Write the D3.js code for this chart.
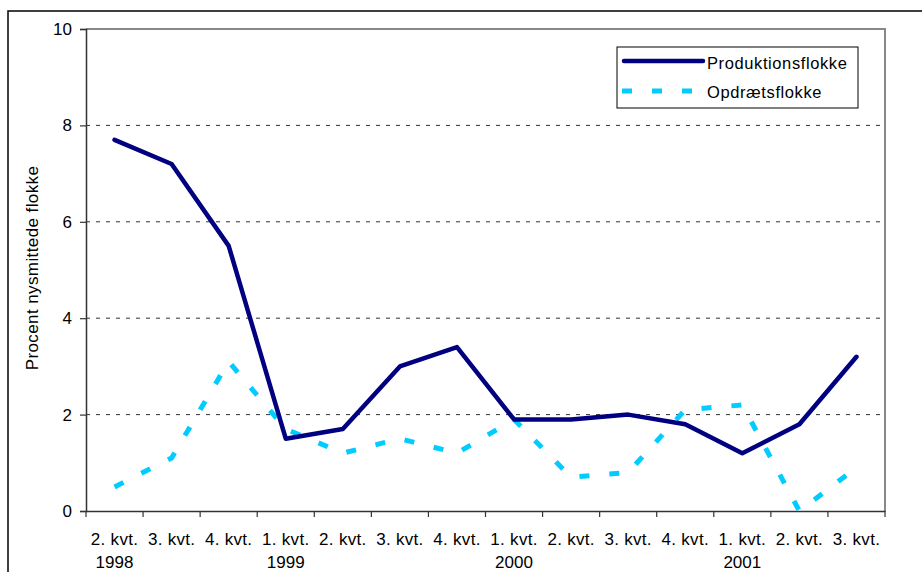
<!DOCTYPE html>
<html><head><meta charset="utf-8">
<script src="https://cdn.jsdelivr.net/npm/d3@7"></script>
<style>body{margin:0;background:#fff}svg{display:block;font-family:Arial,"Liberation Sans",sans-serif}</style>
</head><body><svg id="c" width="922" height="572"></svg>
<script>
const quarters = ["2. kvt.","3. kvt.","4. kvt.","1. kvt.","2. kvt.","3. kvt.","4. kvt.","1. kvt.","2. kvt.","3. kvt.","4. kvt.","1. kvt.","2. kvt.","3. kvt."];
const years = ["1998","","","1999","","","","2000","","","","2001","",""];
const produktion = [7.7,7.2,5.5,1.5,1.7,3.0,3.4,1.9,1.9,2.0,1.8,1.2,1.8,3.2];
const opdraet = [0.5,1.1,3.1,1.7,1.2,1.5,1.2,1.9,0.7,0.8,2.1,2.2,0.0,0.9];
const yTicks = [0,2,4,6,8,10];
const seriesNames = ["Produktionsflokke","Opdrætsflokke"];

const svg = d3.select("#c");
const L=86,R=885,T=29,B=511;
const idx = d3.range(quarters.length);
const x = d3.scaleBand().domain(idx).range([L,R]).padding(0);
const y = d3.scaleLinear().domain([0,10]).range([B,T]);
const cx = i => x(i)+x.bandwidth()/2;

// outer frame
svg.append("path").attr("d",`M8,572V11H922`).attr("fill","none").attr("stroke","#000").attr("stroke-width",1.5);

// gridlines
svg.append("g").selectAll("line").data(yTicks.filter(d=>d>0&&d<10)).join("line")
  .attr("x1",L).attr("x2",R).attr("y1",d=>y(d)).attr("y2",d=>y(d))
  .attr("stroke","#333").attr("stroke-width",1).attr("stroke-dasharray","4,6");

// plot frame top/right
svg.append("path").attr("d",`M${L},${T}H${R}V${B}`).attr("fill","none").attr("stroke","#888").attr("stroke-width",2);

// y axis
const ya = svg.append("g").attr("transform",`translate(${L},0)`)
  .call(d3.axisLeft(y).tickValues(yTicks).tickSize(6).tickPadding(8).tickFormat(d3.format("d")));
ya.select(".domain").attr("stroke","#333").attr("stroke-width",1.5);
ya.selectAll(".tick line").attr("stroke","#333").attr("stroke-width",1.2);
ya.selectAll("text").attr("font-size","17px").attr("fill","#000").attr("font-family","Arial, 'Liberation Sans', sans-serif");

// x axis
const xa = svg.append("g").attr("transform",`translate(0,${B})`)
  .call(d3.axisBottom(x).tickSize(0).tickFormat(""));
xa.select(".domain").attr("stroke","#333").attr("stroke-width",1.5);
const xt = d3.range(quarters.length+1).map(i=> i<quarters.length? x(i): R);
svg.append("g").selectAll("line").data(xt).join("line")
  .attr("x1",d=>d).attr("x2",d=>d).attr("y1",B).attr("y2",B+6)
  .attr("stroke","#333").attr("stroke-width",1.2);
svg.append("g").selectAll("text").data(idx).join("text")
  .attr("x",cx).attr("y",545).attr("text-anchor","middle")
  .attr("font-size","17px").attr("letter-spacing","0.3px").text(i=>quarters[i]);
svg.append("g").selectAll("text").data(idx.filter(i=>years[i])).join("text")
  .attr("x",cx).attr("y",568).attr("text-anchor","middle")
  .attr("font-size","17px").text(i=>years[i]);

// y title
svg.append("text").attr("transform","translate(38,268) rotate(-90)")
  .attr("text-anchor","middle").attr("font-size","17px").attr("letter-spacing","0.4px").text("Procent nysmittede flokke");

// lines
const line = d3.line().x((d,i)=>cx(i)).y(d=>y(d));
svg.append("path").datum(opdraet).attr("d",line).attr("fill","none")
  .attr("stroke","#00CCFF").attr("stroke-width",5).attr("stroke-dasharray","10,20");
svg.append("path").datum(produktion).attr("d",line).attr("fill","none")
  .attr("stroke","#000080").attr("stroke-width",4.5).attr("stroke-linejoin","round").attr("stroke-linecap","round");

// legend
const lg = svg.append("g");
lg.append("rect").attr("x",617).attr("y",47).attr("width",241).attr("height",61)
  .attr("fill","#fff").attr("stroke","#000").attr("stroke-width",1);
lg.append("line").attr("x1",624).attr("x2",703).attr("y1",61).attr("y2",61)
  .attr("stroke","#000080").attr("stroke-width",4.5).attr("stroke-linecap","round");
lg.append("line").attr("x1",622).attr("x2",703).attr("y1",91).attr("y2",91)
  .attr("stroke","#00CCFF").attr("stroke-width",5).attr("stroke-dasharray","10,20");
lg.append("text").attr("x",707).attr("y",69).attr("font-size","16.5px").attr("letter-spacing","0.6px").text(seriesNames[0]);
lg.append("text").attr("x",707).attr("y",98).attr("font-size","16.5px").attr("letter-spacing","0.6px").text(seriesNames[1]);
</script></body></html>
